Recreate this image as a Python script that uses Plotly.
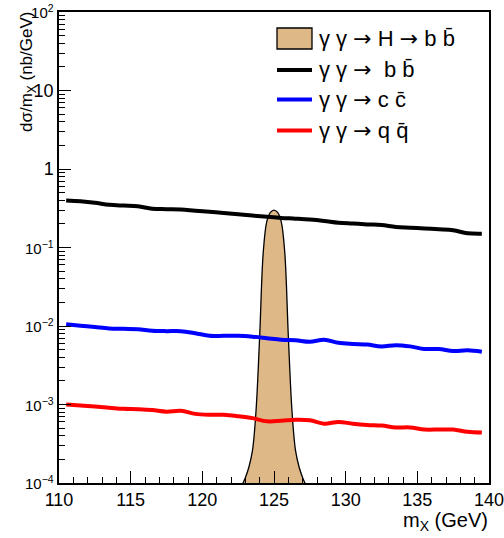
import plotly.graph_objects as go

# Invariant-mass bin centres (GeV) for the continuum backgrounds
mass = [110.5, 111.5, 112.5, 113.5, 114.5, 115.5, 116.5, 117.5, 118.5, 119.5,
        120.5, 121.5, 122.5, 123.5, 124.5, 125.5, 126.5, 127.5, 128.5, 129.5,
        130.5, 131.5, 132.5, 133.5, 134.5, 135.5, 136.5, 137.5, 138.5, 139.5]

# dsigma/dm (nb/GeV)
bb_bkg = [0.397, 0.388, 0.372, 0.350, 0.342, 0.336, 0.312, 0.308, 0.305, 0.294,
          0.285, 0.276, 0.265, 0.255, 0.246, 0.238, 0.233, 0.227, 0.218, 0.207,
          0.202, 0.197, 0.193, 0.183, 0.179, 0.175, 0.171, 0.166, 0.152, 0.150]
cc_bkg = [0.0105, 0.0101, 0.0097, 0.0093, 0.0092, 0.0091, 0.0087, 0.0086, 0.0086, 0.0081,
          0.0075, 0.0075, 0.0075, 0.0073, 0.0070, 0.0067, 0.0066, 0.0063, 0.0067, 0.0061,
          0.0059, 0.0058, 0.0055, 0.0057, 0.0055, 0.0051, 0.0051, 0.0048, 0.0049, 0.0047]
qq_bkg = [0.00100, 0.00097, 0.00094, 0.00091, 0.00088, 0.00087, 0.00085, 0.00081, 0.00083, 0.00076,
          0.00074, 0.00074, 0.00071, 0.00067, 0.00061, 0.00062, 0.00064, 0.00063, 0.00057, 0.00060,
          0.00057, 0.00055, 0.00054, 0.00051, 0.00051, 0.00048, 0.00048, 0.00048, 0.00045, 0.00044]

# Higgs signal line shape, peak at 125 GeV
higgs_mass = [122.0, 122.25, 122.5, 122.75, 123.0, 123.25, 123.5, 123.75, 124.0, 124.25,
              124.5, 124.75, 125.0, 125.25, 125.5, 125.75, 126.0, 126.25, 126.5, 126.75,
              127.0, 127.25, 127.5, 127.75, 128.0]
higgs_sig = [7.0e-5, 7.5e-5, 8.0e-5, 9.3e-5, 1.17e-4, 1.6e-4, 2.6e-4, 8.5e-4, 0.0074, 0.087,
             0.215, 0.28, 0.30, 0.28, 0.215, 0.087, 0.0074, 8.5e-4, 2.6e-4, 1.6e-4,
             1.17e-4, 9.3e-5, 8.0e-5, 7.5e-5, 7.0e-5]

ARROW = '<span style="font-family:DejaVu Sans">\u2192</span>'
legend_labels = [f"\u03b3 \u03b3 {ARROW} H {ARROW} b b\u0304",
                 f"\u03b3 \u03b3 {ARROW}\u00a0 b b\u0304",
                 f"\u03b3 \u03b3 {ARROW} c c\u0304",
                 f"\u03b3 \u03b3 {ARROW} q q\u0304"]

SMALL = '<span style="font-size:15px">10<sup>{}</sup></span>'
y_tick_vals = [1e-4, 1e-3, 1e-2, 1e-1, 1, 10, 100]
y_tick_text = [SMALL.format("\u22124"), SMALL.format("\u22123"), SMALL.format("\u22122"),
               SMALL.format("\u22121"), "1", "10", SMALL.format("2")]

TAN = "#deb887"
FONT = "Liberation Sans, Arial, Helvetica, sans-serif"

W, H = 504, 538
ML, MR, MT, MB = 59, 15, 12, 55
PW, PH = W - ML - MR, H - MT - MB


def px(x):
    return (x - ML) / PW


def py(y):
    return 1 - (y - MT) / PH


fig = go.Figure()

fig.add_trace(go.Scatter(
    x=higgs_mass, y=higgs_sig, mode="lines", line=dict(color="black", width=1.3, shape="spline"),
    fill="tozeroy", fillcolor=TAN, showlegend=False))

for vals, col in [(bb_bkg, "black"), (cc_bkg, "#0000ff"), (qq_bkg, "#ff0000")]:
    fig.add_trace(go.Scatter(
        x=mass, y=vals, mode="lines", line=dict(color=col, width=4, shape="spline"),
        showlegend=False))

minor_y = [m * 10 ** e for e in range(-4, 2) for m in range(2, 10)]

fig.update_xaxes(
    range=[110, 140], tick0=110, dtick=5, ticks="inside", ticklen=12, tickwidth=1,
    tickcolor="black", showgrid=False, zeroline=False, showline=True, linecolor="black",
    linewidth=1.5, mirror=True, automargin=False, ticklabeloverflow="allow",
    tickfont=dict(family=FONT, size=18, color="black"),
    minor=dict(dtick=1, tick0=110, ticks="inside", ticklen=6, tickcolor="black", tickwidth=1),
)
fig.update_yaxes(
    type="log", range=[-4, 2], tickmode="array", tickvals=y_tick_vals, ticktext=y_tick_text,
    ticks="inside", ticklen=12, tickwidth=1, tickcolor="black", showgrid=False,
    zeroline=False, showline=True, linecolor="black", linewidth=1.5, mirror=True,
    automargin=False, ticklabeloverflow="allow",
    tickfont=dict(family=FONT, size=18, color="black"),
    minor=dict(tickmode="array", tickvals=minor_y, ticks="inside", ticklen=6,
               tickcolor="black", tickwidth=1),
)

shapes = []
annotations = []

# legend
rows = [38.5, 70, 99.5, 130.5]
x0, x1, xt = 277, 312, 317
shapes.append(dict(type="rect", xref="paper", yref="paper", x0=px(x0), x1=px(x1),
                   y0=py(rows[0] + 10.5), y1=py(rows[0] - 10.5), fillcolor=TAN,
                   line=dict(color="black", width=1.3)))
for r, col in zip(rows[1:], ["black", "#0000ff", "#ff0000"]):
    shapes.append(dict(type="line", xref="paper", yref="paper", x0=px(x0), x1=px(x1),
                       y0=py(r), y1=py(r), line=dict(color=col, width=4)))
for r, lab in zip(rows, legend_labels):
    annotations.append(dict(text=lab, xref="paper", yref="paper", x=px(xt), y=py(r),
                            xanchor="left", yanchor="middle", showarrow=False,
                            font=dict(family=FONT, size=22, color="black")))

# axis titles
annotations.append(dict(text="d\u03c3/m<sub>X</sub> (nb/GeV)", xref="paper", yref="paper",
                        x=px(28), y=py(10), xanchor="center", yanchor="top", textangle=-90,
                        showarrow=False, font=dict(family=FONT, size=17, color="black")))
annotations.append(dict(text="m<sub>X</sub> (GeV)", xref="paper", yref="paper",
                        x=px(490), y=py(521), xanchor="right", yanchor="middle",
                        showarrow=False, font=dict(family=FONT, size=20, color="black")))

fig.update_layout(
    width=W, height=H, margin=dict(l=ML, r=MR, t=MT, b=MB, autoexpand=False),
    paper_bgcolor="white", plot_bgcolor="white",
    shapes=shapes, annotations=annotations, showlegend=False,
)

fig.write_html("out.html")
